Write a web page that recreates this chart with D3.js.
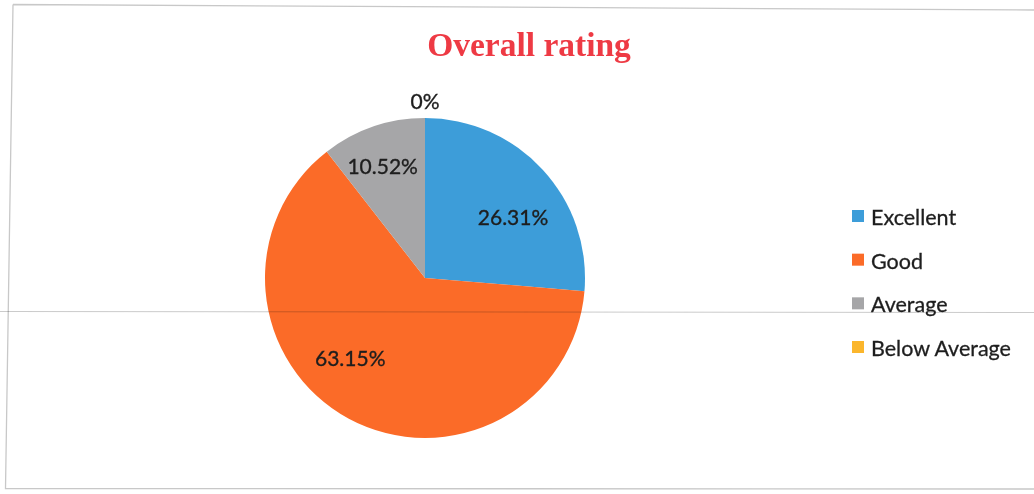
<!DOCTYPE html>
<html>
<head>
<meta charset="utf-8">
<script src="https://cdn.jsdelivr.net/npm/d3@7"></script>
<style>
  html, body { margin: 0; padding: 0; background: #fff; }
  svg { display: block; }
</style>
</head>
<body>
<svg id="chart" width="1034" height="494"></svg>
<script>
// Chart data
const categories = ["Excellent", "Good", "Average", "Below Average"];
const shares = [26.31, 63.15, 10.52, 0];
const valueLabels = ["26.31%", "63.15%", "10.52%", "0%"];
const chartTitle = "Overall rating";

// Styling
const colors = ["#3d9dd9", "#fb6b28", "#a6a6a8", "#fbb62c"];
const cx = 425, cy = 278, R = 160;
const labelRadius = 0.68 * R;
const zeroLabelRadius = R + 18;
// small per-slice label nudges (px) applied after centroid placement
const labelNudge = [[8, 12], [-23, -16], [-7, -10], [0, 0]];

const svg = d3.select("#chart");

// chart frame
svg.append("path")
  .attr("d", "M13,4.5 L1034,10 M13,4.5 L5.5,488.5 L1034,489")
  .attr("fill", "none")
  .attr("stroke", "#c8c8c8")
  .attr("stroke-width", 1.3);

// title
svg.append("text")
  .attr("x", 529).attr("y", 56)
  .attr("text-anchor", "middle")
  .attr("font-family", "'Liberation Serif', 'Times New Roman', serif")
  .attr("font-weight", "bold")
  .attr("font-size", 33.5)
  .attr("fill", "#ee3a44")
  .text(chartTitle);

// pie
const pie = d3.pie().sort(null).value(d => d.value)
  .startAngle(0).endAngle(2 * Math.PI);
const data = categories.map((c, i) => ({ name: c, value: shares[i], label: valueLabels[i], color: colors[i], i }));
const arcs = pie(data);
const arc = d3.arc().innerRadius(0).outerRadius(R);
const labelArc = d3.arc().innerRadius(labelRadius).outerRadius(labelRadius);

const g = svg.append("g").attr("transform", `translate(${cx},${cy})`);
g.selectAll("path.slice")
  .data(arcs.filter(a => a.data.value > 0))
  .join("path")
  .attr("class", "slice")
  .attr("d", arc)
  .attr("fill", d => d.data.color);

// value labels
g.selectAll("text.val")
  .data(arcs)
  .join("text")
  .attr("class", "val")
  .attr("transform", d => {
    let p;
    if (d.data.value > 0) {
      p = labelArc.centroid(d);
    } else {
      const a = d.startAngle;
      p = [Math.sin(a) * zeroLabelRadius, -Math.cos(a) * zeroLabelRadius];
    }
    const n = labelNudge[d.data.i];
    return `translate(${p[0] + n[0]},${p[1] + n[1]})`;
  })
  .attr("text-anchor", "middle")
  .attr("dominant-baseline", "central")
  .attr("font-family", "Lato, 'Open Sans', sans-serif")
  .attr("font-size", 21)
  .attr("fill", "#1e1e1e")
  .attr("stroke", "#1e1e1e")
  .attr("stroke-width", 0.35)
  .text(d => d.data.label);

// legend
const legendY = d3.scalePoint().domain(categories).range([216, 347]);
const items = svg.append("g").selectAll("g").data(data).join("g")
  .attr("transform", d => `translate(852,${legendY(d.name)})`);
items.append("rect")
  .attr("x", 0).attr("y", -6).attr("width", 12).attr("height", 12)
  .attr("fill", d => d.color);
items.append("text")
  .attr("x", 19).attr("y", 1)
  .attr("dominant-baseline", "central")
  .attr("font-family", "Lato, 'Open Sans', sans-serif")
  .attr("font-size", 21.5)
  .attr("fill", "#1e1e1e")
  .attr("stroke", "#1e1e1e")
  .attr("stroke-width", 0.3)
  .text(d => d.name);

// faint scanner streak across the page
svg.append("path")
  .attr("d", "M0,311.5 L1034,312.5")
  .attr("stroke", "#8c8c8c")
  .attr("stroke-opacity", 0.45)
  .attr("stroke-width", 1.2)
  .style("mix-blend-mode", "multiply");
</script>
</body>
</html>
